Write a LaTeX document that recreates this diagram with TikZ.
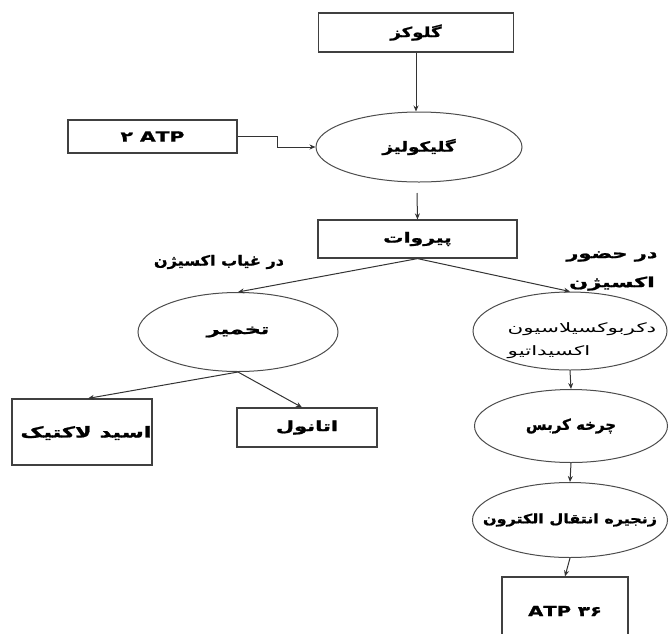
\documentclass[tikz,border=0pt]{standalone}
\usepackage{fontspec}
\usepackage{graphicx}
\usetikzlibrary{shapes.geometric,arrows.meta,calc}
\TeXXeTstate=1
\newfontfamily\fa[Script=Arabic]{DejaVu Sans}
\newfontfamily\fab[Script=Arabic,FakeBold=1.2]{DejaVu Sans Bold}
\newcommand{\sx}[2]{\scalebox{#1}[1]{#2}}
\tikzset{
  ln/.style={draw=black!80, line width=1pt},
  arr/.style={ln, -{Stealth[length=6pt,width=5pt]}},
  boxnode/.style={draw=black!75, line width=1.2pt, rectangle, inner sep=0pt, font=\fab\fontsize{14}{16}\selectfont},
  ellnode/.style={draw=black!70, line width=1pt, ellipse, inner sep=0pt},
  etext/.style={font=\fab\fontsize{14}{16}\selectfont, inner sep=0pt},
  lbl/.style={font=\fab\fontsize{14}{29}\selectfont, align=center, inner sep=0pt}
}
\begin{document}
\begin{tikzpicture}[x=1pt,y=-1pt]
\useasboundingbox (0,0) rectangle (670,633);
\clip (0,0) rectangle (670,633);
\node[boxnode, minimum width=195pt, minimum height=39pt] (glu) at (416,32.5) {\sx{1.3}{\beginR گلوکز\endR}};
\node[ellnode, minimum width=206pt, minimum height=70pt, label={[etext]center:\sx{1.3}{\beginR گلیکولیز\endR}}] (gly) at (419,147) {};
\node[boxnode, minimum width=169pt, minimum height=33pt] (atp2) at (152.5,136.5) {\sx{1.45}{۲ ATP}};
\node[boxnode, minimum width=199pt, minimum height=38pt] (pyr) at (417.5,239) {\sx{1.45}{\beginR پیروات\endR}};
\node[ellnode, minimum width=200pt, minimum height=79pt, label={[etext]center:\sx{1.6}{\beginR تخمیر\endR}}] (fer) at (238,332) {};
\node[boxnode, minimum width=140pt, minimum height=66pt] (lac) at (82,432) {};
\node[font=\fab\fontsize{15}{17}\selectfont, inner sep=0pt] (lact) at (86,433) {\sx{1.5}{\beginR اسید لاکتیک\endR}};
\node[boxnode, minimum width=140pt, minimum height=39pt] (eth) at (307,427.5) {\sx{1.5}{\beginR اتانول\endR}};
\node[ellnode, minimum width=194pt, minimum height=78pt, label={[inner sep=0pt, align=left, xshift=12pt, yshift=-10pt, font=\fa\fontsize{13}{23}\selectfont]center:{\sx{1.65}{\beginR دکربوکسیلاسیون\endR}\\\sx{1.65}{\beginR اکسیداتیو\endR}}}] (dec) at (570,331) {};
\node[ellnode, minimum width=193pt, minimum height=73pt, label={[etext, font=\fab\fontsize{15}{17}\selectfont]center:\beginR چرخه کربس\endR}] (kre) at (571,426) {};
\node[ellnode, minimum width=195pt, minimum height=75pt, label={[etext, font=\fab\fontsize{13}{15}\selectfont]center:\sx{1.23}{\beginR زنجیره انتقال الکترون\endR}}] (etc) at (570,520) {};
\node[boxnode, minimum width=126pt, minimum height=68pt] (atp36) at (565,611) {\sx{1.4}{ATP ۳۶}};
\node[lbl] (absent) at (219,262) {\sx{1.15}{\beginR در غیاب اکسیژن\endR}};
\node[lbl] (present) at (612,271) {\sx{1.5}{\beginR در حضور\endR}\\\sx{1.6}{\beginR اکسیژن\endR}};
\coordinate (g1) at (417,193);
\draw[arr] (glu.south) -- (glu.south |- gly.north);
\draw[arr] (atp2.east) -- ++(40,0) |- (gly.west);
\draw[arr] (g1) -- (pyr.north);
\draw[arr] (pyr.south) -- (fer.north);
\draw[arr] (pyr.south) -- (dec.north);
\draw[arr] (fer.south) -- ($(lac.north)+(6,0)$);
\draw[arr] (fer.south) -- ($(eth.north)+(-5,0)$);
\draw[arr] (dec.south) -- (kre.north);
\draw[arr] (kre.south) -- (etc.north);
\draw[arr] (etc.south) -- (atp36.north);
\end{tikzpicture}
\end{document}
